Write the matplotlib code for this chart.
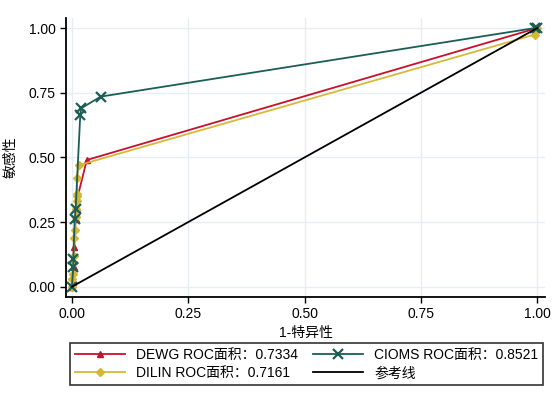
"""
ROC 曲线对比：DEWG / DILIN / CIOMS 三种标准。
"""
import matplotlib
matplotlib.use("Agg")
import matplotlib.pyplot as plt

plt.rcParams["font.family"] = ["Liberation Sans", "Noto Sans CJK SC", "DejaVu Sans"]

# 1-特异性 / 敏感性
dewg_x = [0.0, 0.002, 0.004, 0.005, 0.008, 0.010, 0.012, 0.032, 1.0]
dewg_y = [0.0, 0.02, 0.075, 0.155, 0.26, 0.30, 0.345, 0.49, 1.0]

dilin_x = [0.0, 0.001, 0.002, 0.003, 0.004, 0.005, 0.006, 0.008, 0.009, 0.010,
           0.011, 0.012, 0.010, 0.015, 0.995, 1.0]
dilin_y = [0.0, 0.03, 0.05, 0.09, 0.12, 0.19, 0.22, 0.27, 0.30, 0.33,
           0.35, 0.36, 0.42, 0.47, 0.975, 1.0]

cioms_x = [0.0, 0.003, 0.003, 0.006, 0.008, 0.018, 0.020, 0.062, 0.995, 1.0]
cioms_y = [0.0, 0.077, 0.108, 0.26, 0.30, 0.665, 0.69, 0.735, 1.0, 1.0]

ref_x = [0.0, 1.0]
ref_y = [0.0, 1.0]

labels = ["DEWG ROC面积：0.7334", "DILIN ROC面积：0.7161",
          "CIOMS ROC面积：0.8521", "参考线"]
ticks = [0.0, 0.25, 0.5, 0.75, 1.0]

fig = plt.figure(figsize=(5.58, 3.99), dpi=100)
ax = fig.add_axes([0.118, 0.256, 0.859, 0.699])

l1, = ax.plot(dewg_x, dewg_y, color="#c8102e", lw=1.3, marker="^", ms=5,
              mfc="#c8102e", mec="#c8102e")
l2, = ax.plot(dilin_x, dilin_y, color="#d5b52e", lw=1.3, marker="D", ms=3.8,
              mfc="#d5b52e", mec="#d5b52e", alpha=0.95)
l3, = ax.plot(cioms_x, cioms_y, color="#1a5e55", lw=1.3, marker="x", ms=6.5,
              mew=1.6)
l4, = ax.plot(ref_x, ref_y, color="black", lw=1.3)

ax.set_xlim(-0.013, 1.017)
ax.set_ylim(-0.039, 1.039)
ax.set_xticks(ticks)
ax.set_yticks(ticks)
ax.set_xticklabels([f"{t:.2f}" for t in ticks])
ax.set_yticklabels([f"{t:.2f}" for t in ticks])
ax.tick_params(labelsize=10, length=4, width=1, direction="out")
ax.grid(True, color="#e6eef1", lw=1)
ax.set_axisbelow(True)
for s in ["top", "right"]:
    ax.spines[s].set_visible(False)
for s in ["left", "bottom"]:
    ax.spines[s].set_linewidth(1.3)

ax.set_xlabel("1-特异性", fontsize=10, labelpad=3)
ax.set_ylabel("敏感性", fontsize=10, labelpad=8)

leg = fig.legend([l1, l2, l3, l4], labels,
                 ncol=2, loc="lower left", bbox_to_anchor=(0.125, 0.035, 0.848, 0.108),
                 mode="expand", borderaxespad=0, fontsize=10, frameon=True,
                 fancybox=False, edgecolor="black", handlelength=3.6,
                 handletextpad=0.8, borderpad=0.35, labelspacing=0.3,
                 columnspacing=1.0)
leg.get_frame().set_linewidth(1.2)

fig.savefig("out.png", dpi=100)
